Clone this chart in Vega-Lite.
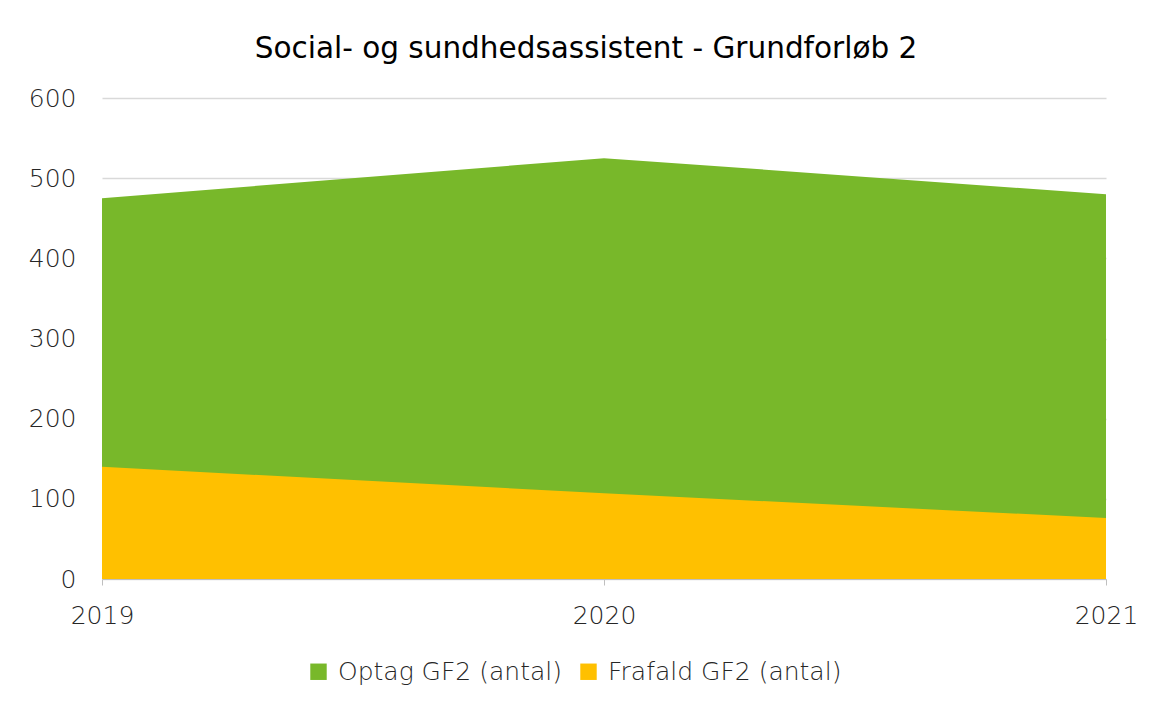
{
  "$schema": "https://vega.github.io/schema/vega-lite/v6.json",
  "autosize": {"type": "none"},
  "width": 1004,
  "height": 481,
  "padding": {"left": 102, "top": 98, "right": 51, "bottom": 125},
  "background": "white",
  "config": {
    "view": {"stroke": null},
    "font": "DejaVu Sans"
  },
  "title": {
    "text": "Social- og sundhedsassistent - Grundforløb 2",
    "fontSize": 29.5,
    "fontWeight": "normal",
    "font": "DejaVu Sans",
    "color": "#000000",
    "offset": 22,
    "dx": -18
  },
  "data": {
    "values": [
      {"year": "2019", "serie": "Optag GF2 (antal)", "antal": 475},
      {"year": "2020", "serie": "Optag GF2 (antal)", "antal": 525},
      {"year": "2021", "serie": "Optag GF2 (antal)", "antal": 480},
      {"year": "2019", "serie": "Frafald GF2 (antal)", "antal": 140},
      {"year": "2020", "serie": "Frafald GF2 (antal)", "antal": 107},
      {"year": "2021", "serie": "Frafald GF2 (antal)", "antal": 76}
    ]
  },
  "encoding": {
    "x": {
      "field": "year",
      "type": "ordinal",
      "scale": {"type": "point", "padding": 0},
      "axis": {
        "title": null,
        "labelAngle": 0,
        "labelFontSize": 25,
        "labelFontWeight": 200,
        "labelColor": "#262626",
        "labelPadding": 18,
        "domainColor": "#bfbfbf",
        "tickColor": "#bfbfbf",
        "tickSize": 6,
        "grid": false
      }
    },
    "y": {
      "field": "antal",
      "type": "quantitative",
      "stack": null,
      "scale": {"domain": [0, 600]},
      "axis": {
        "title": null,
        "values": [0, 100, 200, 300, 400, 500, 600],
        "labelFontSize": 25,
        "labelFontWeight": 200,
        "labelColor": "#262626",
        "labelPadding": 26,
        "ticks": false,
        "domain": false,
        "gridColor": "#d9d9d9",
        "gridWidth": 1.5
      }
    },
    "color": {
      "field": "serie",
      "type": "nominal",
      "scale": {
        "domain": ["Optag GF2 (antal)", "Frafald GF2 (antal)"],
        "range": ["#78b82a", "#ffc000"]
      },
      "legend": {
        "title": null,
        "orient": "none",
        "direction": "horizontal",
        "legendX": 204,
        "legendY": 561,
        "symbolType": "square",
        "symbolSize": 270,
        "symbolStrokeWidth": 0,
        "labelFontSize": 25,
        "labelFontWeight": 200,
        "labelColor": "#262626",
        "labelLimit": 400,
        "columnPadding": 14,
        "labelOffset": 7
      }
    }
  },
  "layer": [
    {
      "transform": [{"filter": "datum.serie === 'Optag GF2 (antal)'"}],
      "mark": {"type": "area", "opacity": 1}
    },
    {
      "transform": [{"filter": "datum.serie === 'Frafald GF2 (antal)'"}],
      "mark": {"type": "area", "opacity": 1}
    }
  ]
}
